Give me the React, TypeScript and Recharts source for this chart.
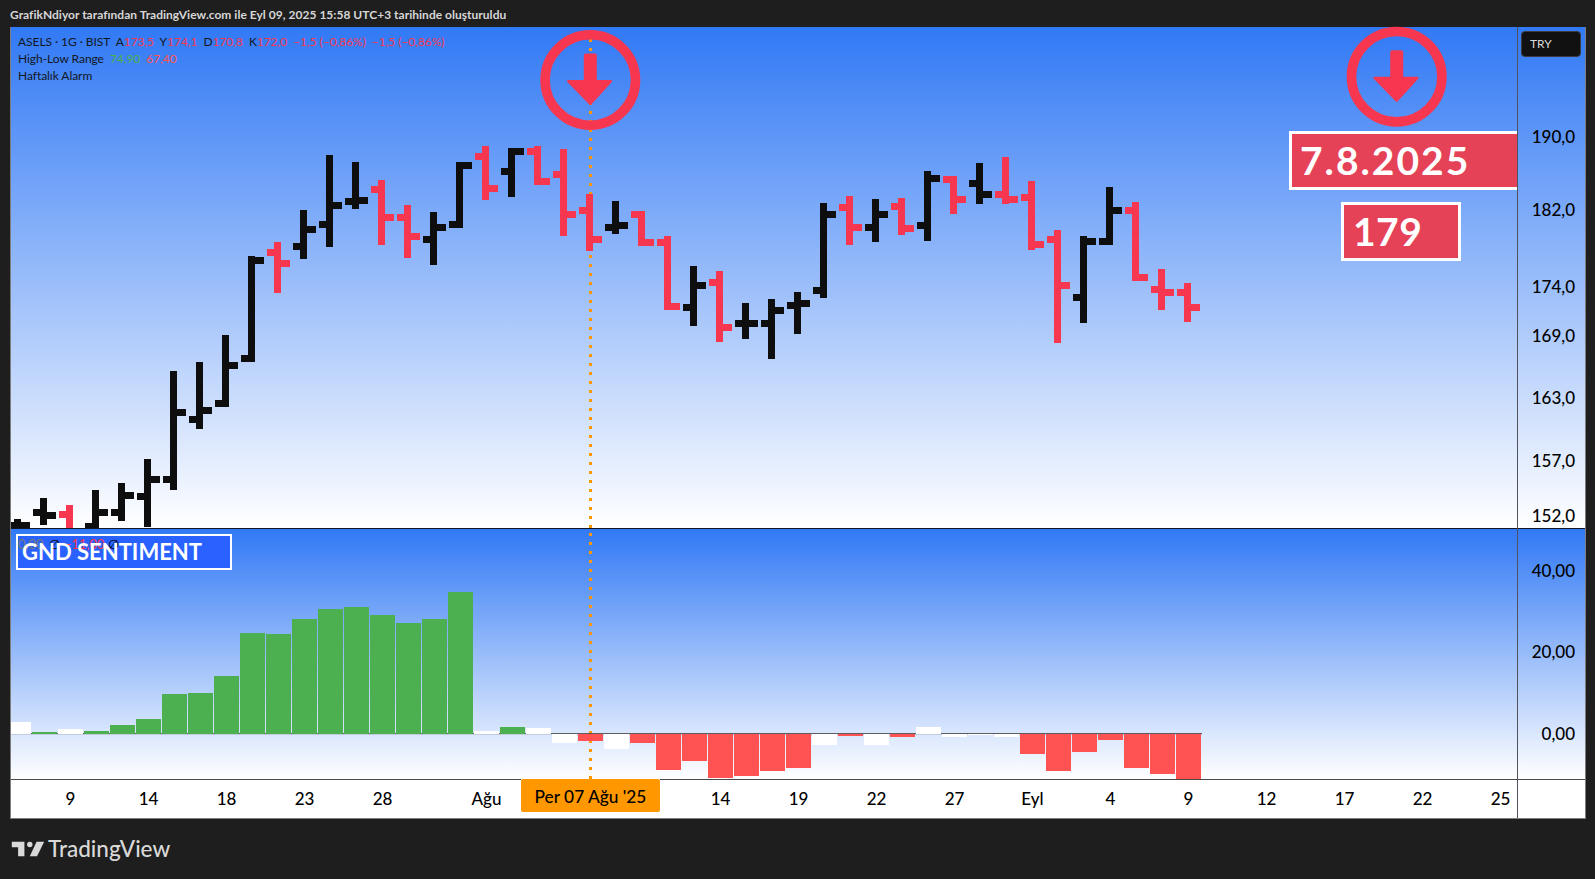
import React from "react";
import { ComposedChart, Bar, Line, Cell, XAxis, YAxis, ReferenceLine } from "recharts";

const dates = ["07-04","07-07","07-09","07-10","07-11","07-14","07-16","07-17","07-18","07-21","07-22","07-23","07-24","07-25","07-28","07-29","07-30","07-31","08-01","08-04","08-05","08-06","08-07","08-08","08-11","08-12","08-13","08-14","08-15","08-18","08-19","08-20","08-21","08-22","08-25","08-26","08-27","08-28","08-29","09-01","09-02","09-03","09-04","09-05","09-08","09-09"];
const opens = [151.10,152.33,152.15,151.08,152.33,153.77,155.31,160.90,162.42,166.78,177.51,178.13,180.45,182.91,184.19,181.20,178.86,180.45,187.82,186.17,188.37,185.83,181.95,180.13,181.45,178.55,171.85,174.39,170.25,170.25,172.06,173.57,182.27,180.13,182.38,180.34,185.28,184.84,183.66,183.34,178.86,172.86,178.65,181.95,173.67,173.37];
const highs = [151.73,153.62,153.00,154.34,154.97,157.19,165.54,166.42,169.06,177.12,178.58,181.98,187.96,187.19,185.21,182.51,181.77,187.19,188.95,188.73,188.95,188.62,183.69,182.95,181.88,179.20,176.08,175.56,172.29,172.69,173.40,182.73,183.47,183.15,183.26,186.20,185.65,187.08,187.74,185.10,179.84,179.20,184.44,182.84,175.77,174.31];
const lows = [148.00,151.19,149.00,149.00,151.55,151.01,154.34,159.97,162.07,166.42,173.29,176.81,178.06,182.09,178.27,176.91,176.22,180.06,183.05,183.37,184.66,179.20,177.65,179.42,178.16,171.58,169.97,168.37,168.67,166.72,169.16,172.79,178.27,178.58,179.31,178.68,181.50,182.58,182.58,177.75,168.27,170.27,178.27,174.52,171.58,170.38];
const closes = [151.17,152.06,150.65,152.33,153.86,155.31,161.56,161.75,166.09,176.67,176.36,179.92,182.48,183.02,181.20,179.17,180.13,186.83,184.30,188.37,185.06,181.45,178.86,180.34,178.55,171.95,174.08,169.84,170.25,171.55,172.26,181.45,180.13,181.45,180.03,185.39,183.12,183.66,183.12,178.34,174.08,178.65,181.88,174.90,173.37,171.85];
const barKinds = ["k","k","r","k","k","k","k","k","k","k","r","k","k","k","r","r","k","k","r","k","r","r","r","k","r","r","k","r","k","k","k","k","r","k","r","k","r","k","r","r","r","k","k","r","r","r"];
const sentiment = [2.8,0.33,1.06,0.57,2.05,3.52,9.66,9.9,14.09,24.65,24.4,28.1,30.55,31.04,29.07,27.1,28.1,34.7,0.57,1.56,1.31,-2.37,-1.88,-3.65,-2.2,-8.85,-6.63,-10.8,-10.3,-9.09,-8.35,-2.7,-0.49,-2.7,-0.74,1.72,-0.74,-0.25,-0.74,-4.91,-9.09,-4.42,-1.47,-8.35,-9.83,-11];
const sentimentKinds = ["w","g","w","g","g","g","g","g","g","g","g","g","g","g","g","g","g","g","w","g","w","w","r","w","r","r","r","r","r","r","r","w","r","w","r","w","w","w","w","r","r","r","r","r","r","r"];
const priceTicks = [152,157,163,169,174,182,190];
const sentimentTicks = [0,20,40];
const timeTicks = [2,5,8,11,14,18,22,27,30,33,36,39,42,45,48,51,54,57];
const timeLabels = ["9","14","18","23","28","Ağu","Per 07 Ağu '25","14","19","22","27","Eyl","4","9","12","17","22","25"];
const crosshairIndex = 22;

const priceRows = dates.map((date, i) => ({ i, date, open: opens[i], close: closes[i], range: [lows[i], highs[i]], kind: barKinds[i] }));
const sentimentRows = dates.map((date, i) => ({ i, date, value: sentiment[i], kind: sentimentKinds[i] }));

const BLACK = "#0e0e0e";
const RED = "#f7374f";
const FONT = "Lato, 'Open Sans', sans-serif";
const GRAD = "linear-gradient(180deg, rgb(49,121,245) 0%, #ffffff 100%)";
const barColor = (k: string) => (k === "k" ? BLACK : RED);
const histColor = (k: string) => (k === "g" ? "#4caf50" : k === "r" ? "#ff5252" : "#ffffff");
const X_DOMAIN: [number, number] = [-0.5, 57.65385];

const OpenTick = (p: any) => p.cy == null ? <g key={p.key} /> : (
  <rect key={p.key} x={Math.round(p.cx) - 11} y={Math.round(p.cy - 3.5)} width={9} height={7} fill={barColor(p.payload.kind)} shapeRendering="crispEdges" />
);
const CloseTick = (p: any) => p.cy == null ? <g key={p.key} /> : (
  <rect key={p.key} x={Math.round(p.cx) + 3} y={Math.round(p.cy - 3.5)} width={9} height={7} fill={barColor(p.payload.kind)} shapeRendering="crispEdges" />
);
const YTick = (digits: number, xPos: number) => (p: any) => (
  <text x={xPos} y={p.y} textAnchor="end" dominantBaseline="central" fontFamily={FONT} fontSize={17} fontWeight={500} fill="#000">
    {Number(p.payload.value).toFixed(digits).replace(".", ",")}
  </text>
);
const TimeTick = (p: any) => {
  const label = timeLabels[timeTicks.indexOf(p.payload.value)];
  if (p.payload.value === crosshairIndex) {
    return (
      <g>
        <rect x={p.x - 70} y={250} width={139} height={33} rx={2} fill="#ff9800" />
        <text x={p.x - 0.5} y={267} textAnchor="middle" dominantBaseline="central" fontFamily={FONT} fontSize={17.3} fontWeight={500} fill="#000">{label}</text>
      </g>
    );
  }
  return <text x={p.x - 0.5} y={269} textAnchor="middle" dominantBaseline="central" fontFamily={FONT} fontSize={17} fontWeight={500} fill="#000">{label}</text>;
};

const Arrow = ({ cx, cy }: { cx: number; cy: number }) => (
  <g>
    <circle cx={cx} cy={cy} r={45.2} fill="none" stroke={RED} strokeWidth={9.6} />
    <path d={`M${cx - 6.5} ${cy - 24.5} a2 2 0 0 1 2 -2 h9 a2 2 0 0 1 2 2 V${cy} h14 a1.2 1.2 0 0 1 1 2 L${cx + 1} ${cy + 24.5} a1.4 1.4 0 0 1 -2 0 L${cx - 23} ${cy + 2} a1.2 1.2 0 0 1 1 -2 h15.5 Z`} fill={RED} />
  </g>
);

const small = { position: "absolute" as const, top: 536, fontSize: 13, lineHeight: "16px", whiteSpace: "nowrap" as const };

export default function App() {
  return (
    <div style={{ position: "absolute", left: 0, top: 0, width: 1595, height: 879, background: "#1e1e1e", overflow: "hidden", fontFamily: FONT }}>
      <div style={{ position: "absolute", left: 10, top: 7, fontSize: 12, fontWeight: 700, letterSpacing: 0.02, color: "#d6d6d6", whiteSpace: "nowrap" }}>
        GrafikNdiyor tarafından TradingView.com ile Eyl 09, 2025 15:58 UTC+3 tarihinde oluşturuldu
      </div>

      {/* frame */}
      <div style={{ position: "absolute", left: 10, top: 27, width: 1576, height: 792, border: "1px solid #7d7d7d", boxSizing: "border-box" }} />

      {/* price pane */}
      <div style={{ position: "absolute", left: 11, top: 27, width: 1574, height: 501, background: GRAD, overflow: "hidden" }}>
        <div style={{ position: "absolute", left: -6, top: 0 }}>
          <ComposedChart width={1580} height={501} data={priceRows} margin={{ top: 0, right: 0, bottom: 0, left: 0 }}>
            <XAxis dataKey="i" type="number" domain={X_DOMAIN} allowDataOverflow hide height={0} />
            <YAxis orientation="right" width={68} scale="log" type="number" domain={[150.92, 202.64]} allowDataOverflow ticks={priceTicks} interval={0} tickLine={false} axisLine={false} tick={YTick(1, 1570)} />
            <ReferenceLine x={crosshairIndex + 0.02} stroke="#ff9800" strokeWidth={3} strokeDasharray="3 6" zIndex={100} />
            <Bar dataKey="range" barSize={7} isAnimationActive={false} shapeRendering="crispEdges">
              {priceRows.map((r) => <Cell key={r.i} fill={barColor(r.kind)} />)}
            </Bar>
            <Line dataKey="open" stroke="none" dot={OpenTick} activeDot={false} isAnimationActive={false} legendType="none" />
            <Line dataKey="close" stroke="none" dot={CloseTick} activeDot={false} isAnimationActive={false} legendType="none" />
          </ComposedChart>
        </div>
      </div>

      {/* pane divider */}
      <div style={{ position: "absolute", left: 11, top: 528, width: 1574, height: 1, background: "#131722" }} />

      {/* sentiment pane */}
      <div style={{ position: "absolute", left: 11, top: 529, width: 1574, height: 289, background: "#fff", overflow: "hidden" }}>
        <div style={{ position: "absolute", left: 0, top: 0, width: 1574, height: 250, background: GRAD }} />
        <div style={{ position: "absolute", left: 0, top: 250, width: 510, height: 1, background: "#4a4a4a" }} />
        <div style={{ position: "absolute", left: 649, top: 250, width: 925, height: 1, background: "#4a4a4a" }} />
        <div style={{ position: "absolute", left: -5, top: 0 }}>
          <ComposedChart width={1580} height={289} data={sentimentRows} margin={{ top: 0, right: 0, bottom: 0, left: 0 }}>
            <XAxis dataKey="i" type="number" domain={X_DOMAIN} allowDataOverflow height={39} ticks={timeTicks} interval={0} tickLine={false} axisLine={false} tick={TimeTick} />
            <YAxis orientation="right" width={68} type="number" domain={[-11.1, 50.1]} allowDataOverflow ticks={sentimentTicks} interval={0} tickLine={false} axisLine={false} tick={YTick(2, 1569)} />
            <ReferenceLine x={crosshairIndex - 0.02} stroke="#ff9800" strokeWidth={3} strokeDasharray="3 6" zIndex={100} />
            <ReferenceLine segment={[{ x: -0.5, y: 0 }, { x: 45.5, y: 0 }]} stroke="#444" strokeWidth={1} zIndex={100} />
            <Bar dataKey="value" barSize={25} isAnimationActive={false} shapeRendering="crispEdges">
              {sentimentRows.map((r) => <Cell key={r.i} fill={histColor(r.kind)} />)}
            </Bar>
          </ComposedChart>
        </div>
      </div>

      {/* axis separator */}
      <div style={{ position: "absolute", left: 1517, top: 27, width: 1, height: 791, background: "#50535e" }} />

      {/* legends */}
      <div style={{ position: "absolute", left: 18, top: 33, fontSize: 12, lineHeight: "17px", color: "#131722", whiteSpace: "pre", letterSpacing: -0.05 }}>
        <div>ASELS · 1G · BIST  A<span style={{ color: RED }}>173,5</span>  Y<span style={{ color: RED }}>174,1</span>  D<span style={{ color: RED }}>170,8</span>  K<span style={{ color: RED }}>172,0</span>  <span style={{ color: RED }}>−1,5 (−0,86%)  −1,5 (−0,86%)</span></div>
        <div>High-Low Range  <span style={{ color: "#4caf50" }}>74,90</span>  <span style={{ color: "#ff5252" }}>67,40</span></div>
        <div>Haftalık Alarm</div>
      </div>

      {/* price badge */}
      <div style={{ position: "absolute", left: 1521, top: 31, width: 60, height: 26, background: "#111", border: "1px solid #3c3c3c", borderRadius: 4, boxSizing: "border-box", color: "#d8d8d8", fontSize: 12, lineHeight: "24px", paddingLeft: 8 }}>TRY</div>

      {/* annotations */}
      <svg width={1595} height={879} style={{ position: "absolute", left: 0, top: 0, pointerEvents: "none" }}>
        <Arrow cx={590.3} cy={80} />
        <Arrow cx={1396.7} cy={76.7} />
      </svg>
      <div style={{ position: "absolute", left: 1289, top: 131, width: 228, height: 59, background: "#e54258", border: "3px solid #fff", borderRight: "none", boxSizing: "border-box", color: "#fff", fontSize: 39, fontWeight: 700, lineHeight: "53px", paddingLeft: 8, letterSpacing: 2 }}>7.8.2025</div>
      <div style={{ position: "absolute", left: 1341, top: 202, width: 120, height: 59, background: "#e54258", border: "3px solid #fff", boxSizing: "border-box", color: "#fff", fontSize: 39, fontWeight: 700, lineHeight: "53px", paddingLeft: 9, letterSpacing: 0.5 }}>179</div>

      {/* sentiment label */}
      <div style={{ position: "absolute", left: 16, top: 534, width: 216, height: 36, border: "2px solid #fff", boxSizing: "border-box", background: "#2962ff" }} />
      <div style={{ ...small, left: 18, color: "#777" }}>0,00</div>
      <div style={{ ...small, left: 49, color: "#000" }}>∅</div>
      <div style={{ ...small, left: 64, color: RED }}>−11,00</div>
      <div style={{ ...small, left: 108, color: "#000" }}>∅</div>
      <div style={{ position: "absolute", left: 22, top: 536, fontSize: 22, fontWeight: 700, color: "#fff", whiteSpace: "nowrap", lineHeight: "32px" }}>GND SENTIMENT</div>

      {/* footer logo */}
      <svg width={34} height={18} viewBox="0 0 36 20" style={{ position: "absolute", left: 11, top: 840 }}>
        <path d="M14 2H0v6h7v10h7V2z" fill="#d9d9d9" />
        <circle cx={20} cy={5} r={3} fill="#d9d9d9" />
        <path d="M28 18h-8l7.5-16H36L28 18z" fill="#d9d9d9" />
      </svg>
      <div style={{ position: "absolute", left: 48, top: 835, fontSize: 22.5, fontWeight: 500, color: "#d9d9d9", whiteSpace: "nowrap" }}>TradingView</div>
    </div>
  );
}
